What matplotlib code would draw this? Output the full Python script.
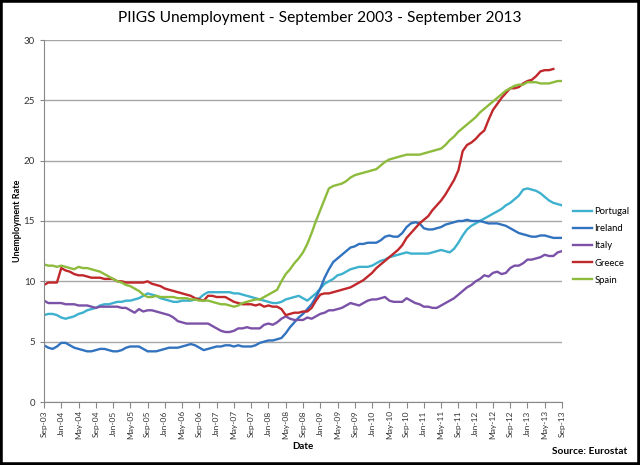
import numpy as np
import pandas as pd
import matplotlib
matplotlib.use('Agg')
import matplotlib.pyplot as plt
from matplotlib.patches import Rectangle

plt.rcParams['font.family'] = ['Lato', 'DejaVu Sans']

# monthly, Sep 2003 .. Sep 2013 (121 months)
months = pd.date_range('2003-09-01', periods=121, freq='MS')
month_labels = [d.strftime('%b-%y') for d in months]

portugal = [
    7.2, 7.3, 7.3, 7.2, 7.0, 6.9, 7.0, 7.1, 7.3, 7.4, 7.6, 7.7, 7.8, 8.0, 8.1, 8.1,
    8.2, 8.3, 8.3, 8.4, 8.4, 8.5, 8.6, 8.8, 9.0, 8.9, 8.8, 8.6, 8.5, 8.4, 8.3, 8.3,
    8.4, 8.4, 8.4, 8.5, 8.6, 8.9, 9.1, 9.1, 9.1, 9.1, 9.1, 9.1, 9.0, 9.0, 8.9, 8.8,
    8.7, 8.6, 8.5, 8.4, 8.3, 8.2, 8.2, 8.3, 8.5, 8.6, 8.7, 8.8, 8.6, 8.4, 8.7, 9.0,
    9.4, 9.8, 10.0, 10.2, 10.5, 10.6, 10.8, 11.0, 11.1, 11.2, 11.2, 11.2, 11.3, 11.5,
    11.7, 11.8, 12.0, 12.1, 12.2, 12.3, 12.4, 12.3, 12.3, 12.3, 12.3, 12.3, 12.4, 12.5,
    12.6, 12.5, 12.4, 12.7, 13.2, 13.8, 14.3, 14.6, 14.8, 15.0, 15.2, 15.4, 15.6, 15.8,
    16.0, 16.3, 16.5, 16.8, 17.1, 17.6, 17.7, 17.6, 17.5, 17.3, 17.0, 16.7, 16.5, 16.4,
    16.3]
ireland = [
    4.7, 4.5, 4.4, 4.6, 4.9, 4.9, 4.7, 4.5, 4.4, 4.3, 4.2, 4.2, 4.3, 4.4, 4.4, 4.3,
    4.2, 4.2, 4.3, 4.5, 4.6, 4.6, 4.6, 4.4, 4.2, 4.2, 4.2, 4.3, 4.4, 4.5, 4.5, 4.5,
    4.6, 4.7, 4.8, 4.7, 4.5, 4.3, 4.4, 4.5, 4.6, 4.6, 4.7, 4.7, 4.6, 4.7, 4.6, 4.6,
    4.6, 4.7, 4.9, 5.0, 5.1, 5.1, 5.2, 5.3, 5.7, 6.2, 6.6, 7.0, 7.3, 7.7, 8.1, 8.7,
    9.4, 10.3, 11.0, 11.6, 11.9, 12.2, 12.5, 12.8, 12.9, 13.1, 13.1, 13.2, 13.2, 13.2,
    13.4, 13.7, 13.8, 13.7, 13.7, 14.0, 14.5, 14.8, 14.9, 14.8, 14.4, 14.3, 14.3, 14.4,
    14.5, 14.7, 14.8, 14.9, 15.0, 15.0, 15.1, 15.0, 15.0, 15.0, 14.9, 14.8, 14.8, 14.8,
    14.7, 14.6, 14.4, 14.2, 14.0, 13.9, 13.8, 13.7, 13.7, 13.8, 13.8, 13.7, 13.6, 13.6,
    13.6]
italy = [
    8.4, 8.2, 8.2, 8.2, 8.2, 8.1, 8.1, 8.1, 8.0, 8.0, 8.0, 7.9, 7.8, 7.9, 7.9, 7.9,
    7.9, 7.9, 7.8, 7.8, 7.6, 7.4, 7.7, 7.5, 7.6, 7.6, 7.5, 7.4, 7.3, 7.2, 7.0, 6.7,
    6.6, 6.5, 6.5, 6.5, 6.5, 6.5, 6.5, 6.3, 6.1, 5.9, 5.8, 5.8, 5.9, 6.1, 6.1, 6.2,
    6.1, 6.1, 6.1, 6.4, 6.5, 6.4, 6.6, 6.9, 7.1, 6.9, 6.8, 6.8, 6.8, 7.0, 6.9, 7.1,
    7.3, 7.4, 7.6, 7.6, 7.7, 7.8, 8.0, 8.2, 8.1, 8.0, 8.2, 8.4, 8.5, 8.5, 8.6, 8.7,
    8.4, 8.3, 8.3, 8.3, 8.6, 8.4, 8.2, 8.1, 7.9, 7.9, 7.8, 7.8, 8.0, 8.2, 8.4, 8.6,
    8.9, 9.2, 9.5, 9.7, 10.0, 10.2, 10.5, 10.4, 10.7, 10.8, 10.6, 10.7, 11.1, 11.3,
    11.3, 11.5, 11.8, 11.8, 11.9, 12.0, 12.2, 12.1, 12.1, 12.4, 12.5]
greece = [
    9.7, 9.9, 9.9, 9.9, 11.1, 10.9, 10.8, 10.6, 10.5, 10.5, 10.4, 10.3, 10.3, 10.3,
    10.2, 10.2, 10.2, 10.0, 10.0, 9.9, 9.9, 9.9, 9.9, 9.9, 10.0, 9.8, 9.7, 9.6, 9.4,
    9.3, 9.2, 9.1, 9.0, 8.9, 8.8, 8.6, 8.5, 8.4, 8.8, 8.8, 8.7, 8.7, 8.7, 8.5, 8.3,
    8.2, 8.1, 8.1, 8.1, 8.0, 8.1, 7.9, 8.0, 7.9, 7.9, 7.7, 7.2, 7.3, 7.4, 7.4, 7.5,
    7.5, 7.8, 8.4, 8.9, 9.0, 9.0, 9.1, 9.2, 9.3, 9.4, 9.5, 9.7, 9.9, 10.1, 10.4, 10.7,
    11.1, 11.4, 11.7, 12.0, 12.3, 12.6, 13.0, 13.6, 14.0, 14.4, 14.8, 15.1, 15.4, 15.9,
    16.3, 16.7, 17.2, 17.8, 18.4, 19.2, 20.8, 21.3, 21.5, 21.8, 22.2, 22.5, 23.4, 24.2,
    24.7, 25.2, 25.6, 26.0, 26.0, 26.1, 26.4, 26.6, 26.7, 27.0, 27.4, 27.5, 27.5, 27.6,
    np.nan, np.nan]
spain = [
    11.4, 11.3, 11.3, 11.2, 11.3, 11.2, 11.1, 11.0, 11.2, 11.1, 11.1, 11.0, 10.9, 10.8,
    10.6, 10.4, 10.2, 10.0, 9.9, 9.7, 9.6, 9.4, 9.2, 8.9, 8.7, 8.7, 8.8, 8.7, 8.7, 8.7,
    8.7, 8.6, 8.6, 8.6, 8.5, 8.5, 8.4, 8.4, 8.4, 8.3, 8.2, 8.1, 8.1, 8.0, 7.9, 8.0,
    8.2, 8.3, 8.4, 8.5, 8.5, 8.7, 8.9, 9.1, 9.3, 10.0, 10.6, 11.0, 11.5, 11.9, 12.4,
    13.1, 14.0, 15.0, 15.9, 16.8, 17.7, 17.9, 18.0, 18.1, 18.3, 18.6, 18.8, 18.9, 19.0,
    19.1, 19.2, 19.3, 19.6, 19.9, 20.1, 20.2, 20.3, 20.4, 20.5, 20.5, 20.5, 20.5, 20.6,
    20.7, 20.8, 20.9, 21.0, 21.3, 21.7, 22.0, 22.4, 22.7, 23.0, 23.3, 23.6, 24.0, 24.3,
    24.6, 24.9, 25.2, 25.5, 25.8, 26.0, 26.2, 26.3, 26.3, 26.5, 26.5, 26.5, 26.4, 26.4,
    26.4, 26.5, 26.6, 26.6]

series = [('Portugal', portugal, '#3DB1CD'),
          ('Ireland', ireland, '#3273BF'),
          ('Italy', italy, '#7B52A8'),
          ('Greece', greece, '#C0282C'),
          ('Spain', spain, '#8DBB3C')]

fig = plt.figure(figsize=(6.4, 4.65), dpi=100)
ax = fig.add_axes([44 / 640, 1 - 402 / 465, (562 - 44) / 640, (402 - 40) / 465])

x = np.arange(len(months))
for name, vals, col in series:
    ax.plot(x, vals, color=col, lw=1.7, label=name, solid_joinstyle='round')

ax.set_xlim(0, len(months) - 1)
ax.set_ylim(0, 30)
ax.set_yticks(range(0, 31, 5))
ax.yaxis.grid(True, color='#A6A6A6', lw=1.0)
ax.set_axisbelow(True)
tick_idx = list(range(0, len(months), 4))
ax.set_xticks(tick_idx)
ax.set_xticklabels([month_labels[i] for i in tick_idx], rotation=90, fontsize=6.0,
                   color='#333333')
ax.tick_params(axis='y', labelsize=7, colors='#333333', length=3, color='#888888')
ax.tick_params(axis='x', length=4, color='#888888', pad=2)
for s in ('top', 'right'):
    ax.spines[s].set_visible(False)
for s in ('left', 'bottom'):
    ax.spines[s].set_color('#888888')

ax.set_xlabel('Date', fontsize=7, fontweight='bold')
ax.xaxis.set_label_coords(0.5, -0.11)
ax.set_ylabel('Unemployment Rate', fontsize=6.5, fontweight='bold')
ax.yaxis.set_label_coords(-0.043, 0.5)

fig.text(0.5, 1 - 18 / 465, 'PIIGS Unemployment - September 2003 - September 2013',
         ha='center', va='center', fontsize=11.2)
fig.text(627 / 640, 1 - 451 / 465, 'Source: Eurostat', ha='right', va='center',
         fontsize=7.3, fontweight='bold')

leg = ax.legend(loc='center left', bbox_to_anchor=(1.022, 0.431), frameon=False,
                borderaxespad=0, borderpad=0, fontsize=6.8, handlelength=2.0,
                handletextpad=0.2, labelspacing=0.85)

fig.patches.append(Rectangle((0, 0), 1, 1, transform=fig.transFigure, fill=False,
                             edgecolor='black', lw=4))

fig.savefig('out.png', dpi=100)
